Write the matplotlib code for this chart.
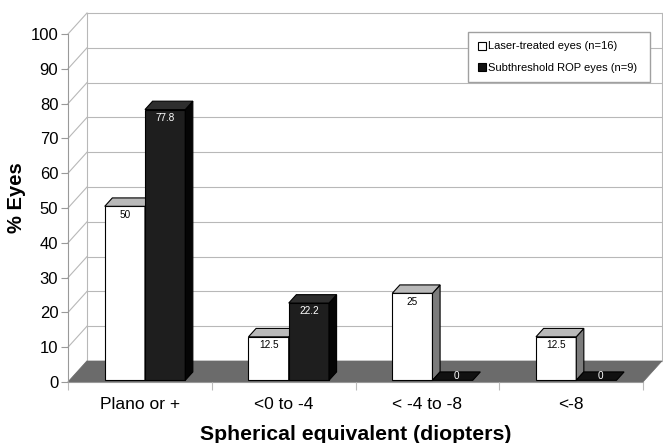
import matplotlib.pyplot as plt
from matplotlib.patches import Polygon
from matplotlib.lines import Line2D

plt.rcParams['font.family'] = ['Liberation Sans', 'DejaVu Sans']

# Data
categories = ["Plano or +", "<0 to -4", "< -4 to -8", "<-8"]
laser = [50, 12.5, 25, 12.5]
subthreshold = [77.8, 22.2, 0, 0]
series_names = ["Laser-treated eyes (n=16)", "Subthreshold ROP eyes (n=9)"]
yticks = list(range(0, 101, 10))

W, H = 663, 443
fig = plt.figure(figsize=(W / 100, H / 100), dpi=100)

# front plane of the 3-D box, in pixels
x_left, x_right = 68, 643
y_bottom, y_top = 382, 34
ax = fig.add_axes([x_left / W, (H - y_bottom) / H,
                   (x_right - x_left) / W, (y_bottom - y_top) / H])
ax.set_xlim(-0.5, 3.5)
ax.set_ylim(0, 100)

# depth of the box (19 px right, 21 px up) in data units
px_x = (x_right - x_left) / 4.0
px_y = (y_bottom - y_top) / 100.0
dx = 19 / px_x
dy = 21 / px_y

grid_c = "#b8b8b8"
x0, x1 = -0.5, 3.5

# back wall + left wall grid lines
for t in yticks:
    ax.plot([x0 + dx, x1 + dx], [t + dy, t + dy], color=grid_c, lw=0.8,
            clip_on=False, zorder=0.5)
    ax.plot([x0, x0 + dx], [t, t + dy], color=grid_c, lw=0.8,
            clip_on=False, zorder=0.5)
ax.plot([x0 + dx, x0 + dx], [dy, 100 + dy], color=grid_c, lw=0.8,
        clip_on=False, zorder=0.5)
ax.plot([x1 + dx, x1 + dx], [dy, 100 + dy], color=grid_c, lw=0.8,
        clip_on=False, zorder=0.5)

# floor
floor = Polygon([(x0, 0), (x1, 0), (x1 + dx, dy), (x0 + dx, dy)],
                closed=True, facecolor="#6b6b6b", edgecolor="#6b6b6b",
                lw=0.5, clip_on=False, zorder=1)
ax.add_patch(floor)

# bars
bar_w = 0.28
offsets = [-0.255, 0.025]
front = 0.08   # bar front plane as fraction of the box depth
depth = 0.40   # bar depth as fraction of the box depth
styles = [
    dict(front="white", top="#b9b9b9", side="#7c7c7c", text="black"),
    dict(front="#1e1e1e", top="#2e2e2e", side="#050505", text="white"),
]

for i in range(len(categories)):
    for s, values in enumerate([laser, subthreshold]):
        v = values[i]
        st = styles[s]
        fx, fy = front * dx, front * dy
        bx, by = depth * dx, depth * dy
        xa = i + offsets[s] + fx
        xb = xa + bar_w
        ya = fy
        yb = v + fy
        z = 2 + i * 0.1 + s * 0.01
        if v > 0:
            ax.add_patch(Polygon([(xa, ya), (xb, ya), (xb, yb), (xa, yb)],
                                 facecolor=st["front"], edgecolor="black",
                                 lw=0.8, clip_on=False, zorder=z))
            ax.add_patch(Polygon([(xb, ya), (xb + bx, ya + by),
                                  (xb + bx, yb + by), (xb, yb)],
                                 facecolor=st["side"], edgecolor="black",
                                 lw=0.8, clip_on=False, zorder=z))
        ax.add_patch(Polygon([(xa, yb), (xb, yb), (xb + bx, yb + by),
                              (xa + bx, yb + by)],
                             facecolor=st["top"] if v > 0 else "#111111",
                             edgecolor="black", lw=0.8, clip_on=False,
                             zorder=z))
        label = f"{v:g}"
        if v > 0:
            ax.annotate(label, ((xa + xb) / 2, yb), xytext=(0, -6),
                        textcoords="offset points", ha="center", va="center",
                        fontsize=7.2, color=st["text"], zorder=5)
        else:
            ax.annotate(label, ((xa + xb + bx) / 2, yb + by / 2),
                        ha="center", va="center", fontsize=7.2,
                        color="white", zorder=5)

# axes
for side in ["top", "right"]:
    ax.spines[side].set_visible(False)
for side in ["left", "bottom"]:
    ax.spines[side].set_color("#999999")
    ax.spines[side].set_linewidth(0.8)
    ax.spines[side].set_zorder(1.5)

ax.set_yticks(yticks)
ax.tick_params(axis="y", direction="out", length=5, width=0.8,
               color="#999999", labelsize=12, pad=2)
ax.set_xticks(range(len(categories)))
ax.set_xticklabels(categories)
ax.set_xticks([k - 0.5 for k in range(len(categories) + 1)], minor=True)
ax.tick_params(axis="x", which="major", length=0, labelsize=12.5, pad=11)
ax.tick_params(axis="x", which="minor", direction="out", length=6,
               width=0.8, color="#bbbbbb")

ax.set_ylabel("% Eyes", fontsize=14.5, fontweight="bold")
ax.yaxis.set_label_coords(-0.073, 0.53)
ax.set_xlabel("Spherical equivalent (diopters)", fontsize=15.3,
              fontweight="bold", labelpad=9)
ax.patch.set_visible(False)

# legend
handles = [
    Line2D([], [], marker="s", linestyle="none", markerfacecolor="white",
           markeredgecolor="black", markersize=6, markeredgewidth=0.8),
    Line2D([], [], marker="s", linestyle="none", markerfacecolor="#111111",
           markeredgecolor="black", markersize=6, markeredgewidth=0.8),
]
fig.legend(handles, series_names, loc="upper left",
           bbox_to_anchor=(468 / W, 1 - 32 / H - 0.01, (650 - 468) / W, 0.01),
           mode="expand", fontsize=8, frameon=True, fancybox=False,
           edgecolor="#a0a0a0", framealpha=1, handlelength=0.8,
           handletextpad=0.15, labelspacing=1.0, borderpad=0.85,
           borderaxespad=0)

fig.savefig("out.png", dpi=100)
